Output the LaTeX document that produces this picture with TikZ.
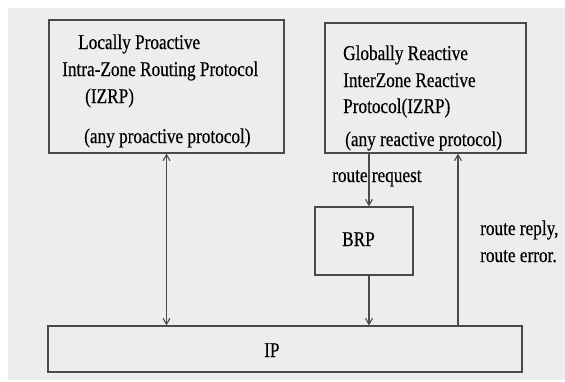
\documentclass[tikz,border=0pt]{standalone}
\usepackage{fontspec}
\setmainfont{Liberation Serif}[FakeStretch=0.82, FakeBold=0.4]
\usetikzlibrary{arrows.meta}
\definecolor{panelgray}{HTML}{EDEDED}
\definecolor{linegray}{HTML}{4A4A4A}
\tikzset{>={Straight Barb[length=6pt,width=7pt]}}

\begin{document}
\begin{tikzpicture}[x=1pt, y=-1pt,
		every node/.style={font=\fontsize{21}{24}\selectfont},
		layer/.style={draw=linegray, line width=1.3pt, inner sep=0pt},
		txt/.style={anchor=base west, inner sep=0pt},
		link/.style={draw=linegray, line width=1.1pt}]
	\useasboundingbox (0,0) rectangle (565,381);
	\fill[panelgray] (8,8) rectangle (565,380);

	% the protocol boxes
	\node[layer, minimum width=235pt, minimum height=133pt] (lzone) at (166.5,86.5) {};
	\node[layer, minimum width=201pt, minimum height=130pt] (rzone) at (425.5,88) {};
	\node[layer, minimum width=98pt, minimum height=68pt] (brp) at (364,241) {};
	\node[layer, minimum width=474pt, minimum height=46pt] (ip) at (285,349) {};
	\node[txt] (brptxt) at (342,246) {BRP};
	\node[txt] (iptxt) at (264,357) {IP};

	% local proactive part
	\node[txt] (l1) at (78,49) {Locally Proactive};
	\node[txt] (l2) at (62,76) {Intra-Zone Routing Protocol};
	\node[txt] (l3) at (85,103) {(IZRP)};
	\node[txt] (l4) at (84,143) {(any proactive protocol)};

	% global reactive part
	\node[txt] (r1) at (343,60) {Globally Reactive};
	\node[txt] (r2) at (343,87) {InterZone Reactive};
	\node[txt] (r3) at (343,113) {Protocol(IZRP)};
	\node[txt] (r4) at (345,146) {(any reactive protocol)};

	% labels on the links
	\node[txt] (req) at (332,182) {route request};
	\node[txt] (rep1) at (480,235) {route reply,};
	\node[txt] (rep2) at (480,262) {route error.};

	\coordinate (qx) at (369,0);
	\coordinate (px) at (458,0);

	% the links
	\draw[link, <->] (lzone.south) -- (lzone.south |- ip.north);
	\draw[link, ->] (rzone.south -| qx) -- (brp.north -| qx);
	\draw[link, ->] (brp.south -| qx) -- (ip.north -| qx);
	\draw[link, ->] (ip.north -| px) -- (rzone.south -| px);
\end{tikzpicture}
\end{document}
